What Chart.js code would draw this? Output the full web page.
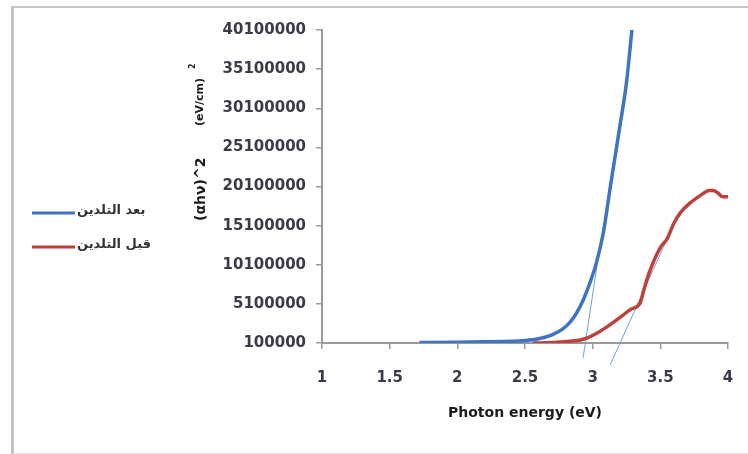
<!DOCTYPE html>
<html>
<head>
<meta charset="utf-8">
<script src="https://cdn.jsdelivr.net/npm/chart.js@4/dist/chart.umd.min.js"></script>
<style>
  body { margin: 0; background: #fff; }
  #wrap { position: relative; width: 748px; height: 454px; overflow: hidden; }
  #frame { position: absolute; left: 11px; top: 6px; width: 740px; height: 445px;
           border-top: 2px solid #c6c6c6; border-left: 3px solid #c2c2c2; border-bottom: 1px solid #e4e4e4; }
  #chart { position: absolute; left: 0; top: 0; }
</style>
</head>
<body>
<div id="wrap">
  <div id="frame"></div>
  <canvas id="chart" width="748" height="454"></canvas>
</div>
<script>
// بعد التلدين (after annealing)
const afterEnergy = [1.72, 2.0, 2.2, 2.4, 2.5, 2.6, 2.7, 2.78, 2.83, 2.88, 2.93, 2.98, 3.03, 3.08, 3.13, 3.2, 3.25, 3.29];
const afterValues = [150000, 200000, 250000, 320000, 420000, 650000, 1150000, 1900000, 2700000, 3900000, 5600000, 7800000, 10500000, 14300000, 20000000, 27700000, 33400000, 40100000];

// قبل التلدين (before annealing)
const beforeEnergy = [2.56, 2.7, 2.8, 2.9, 2.96, 3.03, 3.1, 3.15, 3.22, 3.28, 3.35, 3.38, 3.42, 3.5, 3.55, 3.6, 3.65, 3.72, 3.8, 3.86, 3.89, 3.93, 3.96, 4.0];
const beforeValues = [100000, 150000, 280000, 450000, 750000, 1350000, 2100000, 2700000, 3600000, 4400000, 5200000, 7000000, 9200000, 12300000, 13400000, 15400000, 16800000, 18000000, 19000000, 19600000, 19600000, 19200000, 18800000, 18800000];

// tangent (extrapolation) lines
const tangentAfterEnergy = [2.929, 3.033];
const tangentAfterValues = [-1820000, 10070000];
const tangentBeforeEnergy = [3.129, 3.587];
const tangentBeforeValues = [-2710000, 14800000];

const yTickValues = [100000, 5100000, 10100000, 15100000, 20100000, 25100000, 30100000, 35100000, 40100000];
const xTickMin = 1, xTickMax = 4, xTickStep = 0.5;

const labels = ["بعد التلدين", "قبل التلدين"];

function toPoints(xs, ys) {
    return xs.map((x, i) => ({ x: x, y: ys[i] }));
}

const tickFont = { family: "DejaVu Sans", size: 15, weight: "bold" };
const textColor = "#3c3a48";

// eixo Y e legenda desenhados à mão
const extrasPlugin = {
    id: "extras",
    afterDraw(chart) {
        const ctx = chart.ctx;
        ctx.save();
        // titulo Y (vertical)
        ctx.translate(201, 221);
        ctx.rotate(-Math.PI / 2);
        ctx.fillStyle = "#1a1a1a";
        ctx.textBaseline = "middle";
        ctx.textAlign = "left";
        ctx.font = "bold 14px 'DejaVu Sans'";
        ctx.fillText("(αhν)^2", 0, 0);
        ctx.font = "bold 11px 'DejaVu Sans'";
        ctx.fillText("(eV/cm)", 95, -1);
        ctx.font = "bold 8px 'DejaVu Sans'";
        ctx.fillText("2", 152, -8);
        ctx.restore();

        // legenda
        ctx.save();
        const ds = chart.data.datasets;
        [0, 1].forEach((i, k) => {
            const y = 213 + k * 34;
            ctx.strokeStyle = ds[i].borderColor;
            ctx.lineWidth = 3;
            ctx.beginPath();
            ctx.moveTo(32, y);
            ctx.lineTo(75, y);
            ctx.stroke();
            ctx.fillStyle = "#333";
            ctx.font = "bold 13px 'DejaVu Sans'";
            ctx.textBaseline = "middle";
            ctx.textAlign = "left";
            ctx.fillText(ds[i].label, 77, y - 2);
        });
        ctx.restore();
    }
};

new Chart(document.getElementById("chart"), {
    type: "line",
    data: {
        datasets: [
            {
                label: labels[0],
                data: toPoints(afterEnergy, afterValues),
                borderColor: "#3e74c2",
                borderWidth: 3.5,
                pointRadius: 0,
                tension: 0.3,
                cubicInterpolationMode: "monotone"
            },
            {
                label: labels[1],
                data: toPoints(beforeEnergy, beforeValues),
                borderColor: "#c0403c",
                borderWidth: 3.5,
                pointRadius: 0,
                tension: 0.3,
                cubicInterpolationMode: "monotone"
            },
            {
                label: "tangent1",
                data: toPoints(tangentAfterEnergy, tangentAfterValues),
                borderColor: "#6fa0dc",
                borderWidth: 1,
                pointRadius: 0,
                clip: false
            },
            {
                label: "tangent2",
                data: toPoints(tangentBeforeEnergy, tangentBeforeValues),
                borderColor: "#6fa0dc",
                borderWidth: 1,
                pointRadius: 0,
                clip: false
            }
        ]
    },
    options: {
        responsive: false,
        animation: false,
        devicePixelRatio: 1,
        layout: { padding: { left: 200, right: 20, top: 30, bottom: 30 } },
        plugins: {
            legend: { display: false },
            tooltip: { enabled: false }
        },
        scales: {
            x: {
                type: "linear",
                min: xTickMin,
                max: xTickMax,
                ticks: {
                    stepSize: xTickStep,
                    color: textColor,
                    font: tickFont,
                    padding: 20,
                    maxRotation: 0,
                    callback: v => String(v)
                },
                grid: { drawOnChartArea: false, drawTicks: true, tickLength: 6, color: "#9a9a9a", lineWidth: 1.5 },
                border: { color: "#9a9a9a", width: 2 },
                title: {
                    display: true,
                    text: "Photon energy (eV)",
                    color: "#1a1a1a",
                    font: { family: "DejaVu Sans", size: 14, weight: "bold" },
                    padding: { top: 0, bottom: 2 }
                },
                afterFit: scale => {
                    scale.height = 81;
                    scale.paddingLeft = 0;
                    scale.paddingRight = 0;
                }
            },
            y: {
                type: "linear",
                min: yTickValues[0],
                max: yTickValues[yTickValues.length - 1],
                afterBuildTicks: scale => {
                    scale.ticks = yTickValues.map(v => ({ value: v }));
                },
                ticks: {
                    color: textColor,
                    font: tickFont,
                    padding: 10,
                    callback: v => String(v)
                },
                grid: { drawOnChartArea: false, drawTicks: true, tickLength: 6, color: "#9a9a9a", lineWidth: 1.5 },
                border: { color: "#9a9a9a", width: 2 },
                afterFit: scale => { scale.width = 122; }
            }
        }
    },
    plugins: [extrasPlugin]
});
</script>
</body>
</html>
